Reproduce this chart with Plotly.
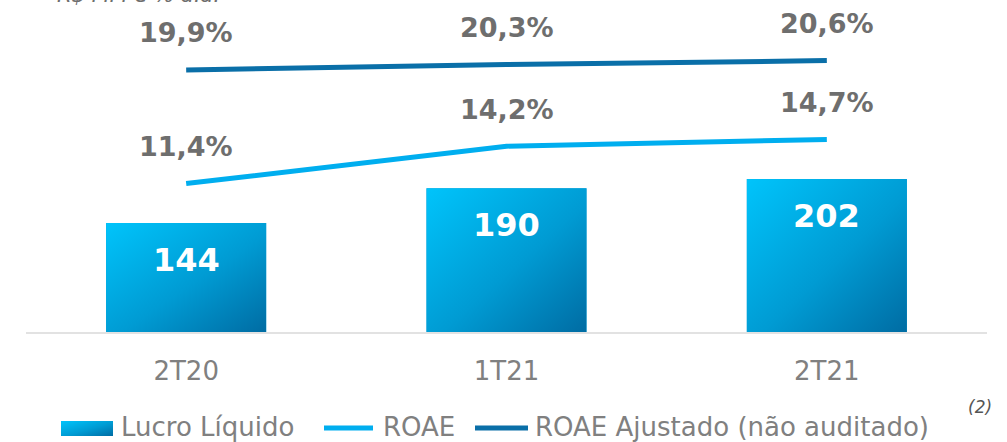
import base64
import plotly.graph_objects as go

# ---------------- data ----------------
categories = ["2T20", "1T21", "2T21"]
lucro_liquido = [144, 190, 202]
roae = [11.4, 14.2, 14.7]
roae_ajustado = [19.9, 20.3, 20.6]
lucro_labels = ["144", "190", "202"]
roae_labels = ["11,4%", "14,2%", "14,7%"]
roae_aj_labels = ["19,9%", "20,3%", "20,6%"]
series_names = ["Lucro Líquido", "ROAE", "ROAE Ajustado (não auditado)"]
unit_text = "R$ MM e % a.a."
note_text = "(2)"

# ---------------- style ----------------
W, H = 1007, 442
ML, MR, MT, MB = 26, 20, 20, 110
PW, PH = W - ML - MR, H - MT - MB

C_LIGHT = "#00AEEF"
C_DARK = "#0A6FA8"
C_BAR = "#009BD6"
C_TXT = "#6E6E6E"
C_TICK = "#808080"
FONT = "DejaVu Sans"

grad_svg = (
    '<svg xmlns="http://www.w3.org/2000/svg" width="100" height="100" '
    'viewBox="0 0 100 100" preserveAspectRatio="none">'
    '<defs><linearGradient id="g" x1="0" y1="0" x2="1" y2="1">'
    '<stop offset="0" stop-color="#00C4FB"/>'
    '<stop offset="0.55" stop-color="#009BD3"/>'
    '<stop offset="1" stop-color="#006CA3"/>'
    '</linearGradient></defs>'
    '<rect x="0" y="0" width="100" height="100" fill="url(#g)"/></svg>'
)
GRAD = "data:image/svg+xml;base64," + base64.b64encode(grad_svg.encode()).decode()


def px2x(px):
    return (px - ML) / PW


def py2y(py):
    return (MT + PH - py) / PH


fig = go.Figure()

fig.add_trace(go.Bar(
    x=categories, y=lucro_liquido, name=series_names[0],
    marker=dict(color=C_BAR, line=dict(width=0)), width=0.5,
    showlegend=False, hoverinfo="skip",
))
fig.add_trace(go.Scatter(
    x=categories, y=roae, name=series_names[1], mode="lines",
    line=dict(color=C_LIGHT, width=5), yaxis="y2",
    showlegend=False, hoverinfo="skip",
))
fig.add_trace(go.Scatter(
    x=categories, y=roae_ajustado, name=series_names[2], mode="lines",
    line=dict(color=C_DARK, width=5), yaxis="y2",
    showlegend=False, hoverinfo="skip",
))

images = []
annotations = []
bar_w = 0.5
for i, (cat, v) in enumerate(zip(categories, lucro_liquido)):
    # gradient overlay on each bar, positioned from the data
    images.append(dict(
        source=GRAD, xref="x", yref="y", x=i - bar_w / 2, y=v,
        sizex=bar_w, sizey=v, sizing="stretch", xanchor="left",
        yanchor="top", layer="above",
    ))
    annotations.append(dict(
        x=cat, y=v, xref="x", yref="y", text=lucro_labels[i],
        showarrow=False, yshift=-37,
        font=dict(family=FONT, size=32, color="white", weight="bold"),
    ))
for i, cat in enumerate(categories):
    annotations.append(dict(
        x=cat, y=roae[i], xref="x", yref="y2", text=roae_labels[i],
        showarrow=False, yshift=37,
        font=dict(family=FONT, size=27, color=C_TXT, weight="bold"),
    ))
    annotations.append(dict(
        x=cat, y=roae_ajustado[i], xref="x", yref="y2", text=roae_aj_labels[i],
        showarrow=False, yshift=37,
        font=dict(family=FONT, size=27, color=C_TXT, weight="bold"),
    ))

# unit text (cropped at top edge, as in the source)
annotations.append(dict(
    x=px2x(55), y=py2y(9), xref="paper", yref="paper", xanchor="left",
    yanchor="bottom", text="<i>" + unit_text + "</i>", showarrow=False,
    font=dict(family=FONT, size=21, color=C_TXT),
))

# ---- manual legend ----
LEG_Y = 428
leg_font = dict(family=FONT, size=26, color=C_TICK)
images.append(dict(
    source=GRAD, xref="paper", yref="paper", x=px2x(61), y=py2y(421),
    sizex=px2x(113) - px2x(61), sizey=py2y(421) - py2y(436),
    sizing="stretch", xanchor="left", yanchor="top", layer="above",
))
shapes = [
    dict(type="line", xref="paper", yref="paper", x0=px2x(324), x1=px2x(373),
         y0=py2y(LEG_Y), y1=py2y(LEG_Y), line=dict(color=C_LIGHT, width=5)),
    dict(type="line", xref="paper", yref="paper", x0=px2x(475), x1=px2x(528),
         y0=py2y(LEG_Y), y1=py2y(LEG_Y), line=dict(color=C_DARK, width=5)),
]
for txt, px in zip(series_names, [119, 381, 533]):
    annotations.append(dict(
        x=px2x(px), y=py2y(LEG_Y - 1), xref="paper", yref="paper",
        xanchor="left", yanchor="middle", text=txt, showarrow=False,
        font=leg_font,
    ))
annotations.append(dict(
    x=px2x(966), y=py2y(407), xref="paper", yref="paper", xanchor="left",
    yanchor="middle", text="<i>" + note_text + "</i>", showarrow=False,
    font=dict(family=FONT, size=17, color="#555555"),
))

fig.update_layout(
    width=W, height=H,
    margin=dict(l=ML, r=MR, t=MT, b=MB, pad=0),
    paper_bgcolor="white", plot_bgcolor="white",
    showlegend=False,
    bargap=0.5,
    xaxis=dict(
        type="category", range=[-0.5, 2.5], showgrid=False, zeroline=False,
        showline=True, linecolor="#E2E2E2", linewidth=2, ticks="",
        tickfont=dict(family=FONT, size=26, color=C_TICK),
        ticklabelstandoff=15,
    ),
    yaxis=dict(range=[0, PH / 0.757], visible=False, showgrid=False,
               zeroline=False),
    yaxis2=dict(range=[0.3, 0.3 + PH / 13.37], overlaying="y", visible=False,
                showgrid=False, zeroline=False),
    images=images,
    shapes=shapes,
    annotations=annotations,
)

fig.write_html(
    "out.html",
    config={"displayModeBar": False},
    post_script="document.body.style.margin='0';document.body.style.overflow='hidden';",
)
